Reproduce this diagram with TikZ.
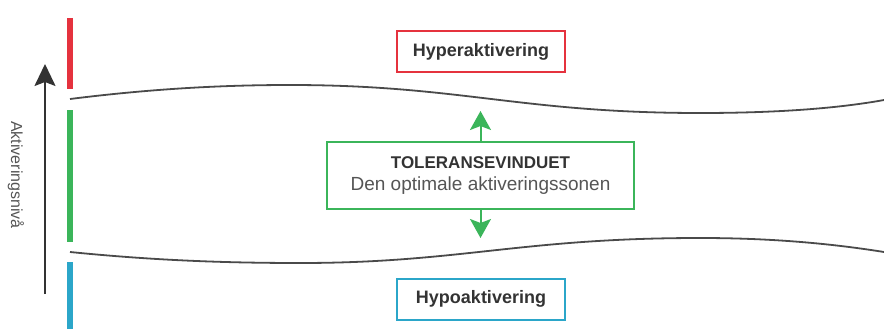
\documentclass[tikz,border=0pt]{standalone}
\usepackage{fontspec}
\setmainfont{Liberation Sans}
\usetikzlibrary{arrows.meta}
\definecolor{hyperred}{HTML}{E5323E}
\definecolor{tolgreen}{HTML}{3BB55A}
\definecolor{hypoblue}{HTML}{2BA6C9}
\definecolor{ink}{HTML}{333333}
\definecolor{soft}{HTML}{555555}
\definecolor{edgegray}{HTML}{4A4A4A}

\begin{document}
\begin{tikzpicture}[x=1pt, y=-1pt,
    zone/.style={draw, line width=2pt, minimum width=168pt, minimum height=41pt,
      font=\fontsize{18}{20}\selectfont\bfseries, text=ink},
    bar/.style={line width=6pt},
    band/.style={draw=edgegray, line width=1.8pt},
    tolarrow/.style={-{Stealth[length=19pt,width=21pt,inset=4pt]}, line width=2pt, tolgreen}]
    \useasboundingbox (0,0) rectangle (884,329);
    %tikz toleransevindu
    \node[zone, draw=hyperred] at (481,52) (Hyper){Hyperaktivering};
    \node[zone, draw=hypoblue] at (481,299) (Hypo){Hypoaktivering};
    \node[draw=tolgreen, line width=2pt, minimum width=307pt, minimum height=67pt,
      align=center, text=ink, font=\fontsize{19}{22}\selectfont] at (480.5,175.5) (Tol)
      {{\fontsize{17}{22}\selectfont\bfseries TOLERANSEVINDUET}\\ \textcolor{soft}{Den optimale aktiveringssonen}};
    \coordinate (TolUp) at ([yshift=30pt]Tol.north);
    \coordinate (TolDown) at ([yshift=-28pt]Tol.south);
    \draw[tolarrow] (Tol.north) -- (TolUp);
    \draw[tolarrow] (Tol.south) -- (TolDown);
    % grenser
    \draw[band] (70,99) .. controls (150,89) and (220,85) .. (290,85)
      .. controls (460,85) and (520,113) .. (700,113)
      .. controls (780,113) and (840,108) .. (884,100);
    \draw[band] (70,252) .. controls (150,260) and (220,263) .. (300,263)
      .. controls (460,263) and (520,238) .. (700,238)
      .. controls (780,238) and (840,245) .. (884,252);
    % fargekanter
    \draw[bar, hyperred] (70,18) -- (70,89);
    \draw[bar, tolgreen] (70,110) -- (70,242);
    \draw[bar, hypoblue] (70,262) -- (70,329);
    % akse
    \coordinate (AxBot) at (45,294);
    \coordinate (AxTop) at (45,64);
    \draw[-{Stealth[length=22pt,width=21pt,inset=4pt]}, line width=2pt, ink] (AxBot) -- (AxTop);
    \node[rotate=-90, text=soft, font=\fontsize{16}{18}\selectfont] at (16,175) (AxLabel){Aktiveringsnivå};
\end{tikzpicture}
\end{document}
